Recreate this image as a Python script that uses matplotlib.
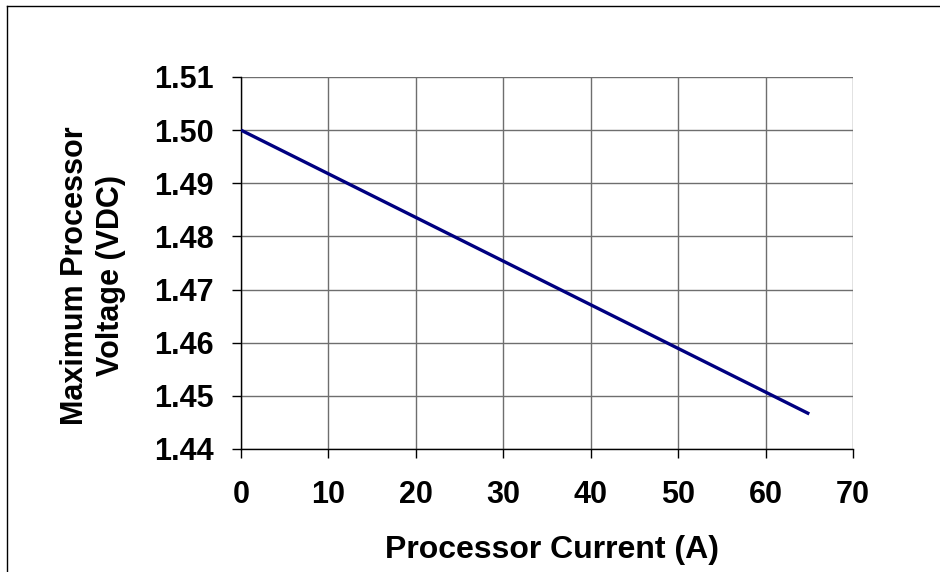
import matplotlib
matplotlib.use("Agg")
import matplotlib.pyplot as plt
from matplotlib.lines import Line2D

plt.rcParams['font.family'] = ['Liberation Sans', 'DejaVu Sans']

current = [0, 65]
voltage = [1.500, 1.4466]
x_ticks = [0, 10, 20, 30, 40, 50, 60, 70]
y_ticks = [1.44, 1.45, 1.46, 1.47, 1.48, 1.49, 1.50, 1.51]

fig = plt.figure(figsize=(9.4, 5.72), dpi=100)
ax = fig.add_axes([241/940, 1-449/572, (853-241)/940, (449-77)/572])

ax.plot(current, voltage, color='#000080', lw=2.4, solid_capstyle='butt', zorder=3)
ax.set_xlim(0, 70)
ax.set_ylim(1.44, 1.51)
ax.set_xticks(x_ticks)
ax.set_yticks(y_ticks)
ax.set_xticklabels([str(v) for v in x_ticks], fontsize=22, fontweight='bold')
ax.set_yticklabels([f"{v:.2f}" for v in y_ticks], fontsize=22, fontweight='bold')
ax.grid(True, color='#6e6e6e', lw=1.0)
ax.set_axisbelow(True)
for s in ['top', 'right']:
    ax.spines[s].set_visible(False)
for s in ['left', 'bottom']:
    ax.spines[s].set_color('black')
    ax.spines[s].set_linewidth(1.0)
ax.tick_params(axis='both', direction='out', length=6.8, width=1.0, color='black')
ax.tick_params(axis='x', pad=15.5)
ax.tick_params(axis='y', pad=13)

fig.text(552/940, 1-558/572, 'Processor Current (A)', ha='center', va='baseline',
         fontsize=23, fontweight='bold')
fig.text(93/940, 1-276/572, 'Maximum Processor\nVoltage (VDC)', rotation=90,
         ha='center', va='center', fontsize=22, fontweight='bold', linespacing=1.3)

# figure frame
fig.add_artist(Line2D([7/940, 7/940], [0, 1-6/572], transform=fig.transFigure, color='black', lw=1.0))
fig.add_artist(Line2D([7/940, 1], [1-6/572, 1-6/572], transform=fig.transFigure, color='black', lw=1.0))

fig.savefig('out.png', dpi=100)
